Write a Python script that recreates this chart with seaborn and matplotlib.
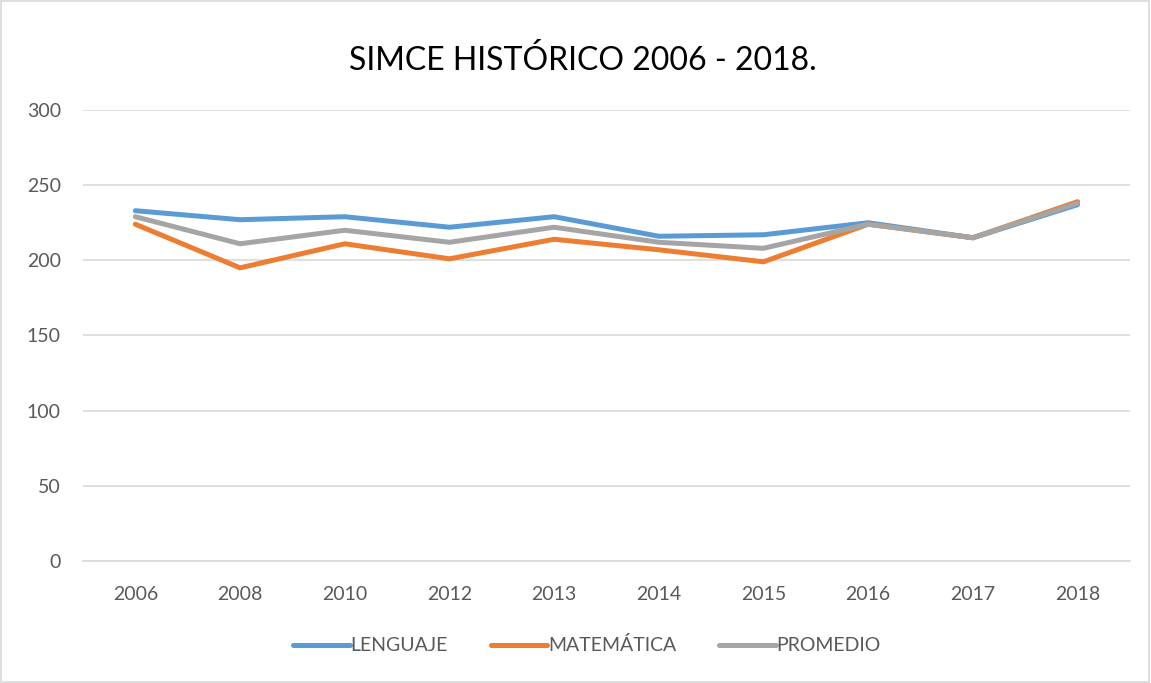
import matplotlib
matplotlib.use("Agg")
import matplotlib.pyplot as plt
import seaborn as sns
import pandas as pd
from matplotlib.patches import Rectangle
from matplotlib.lines import Line2D

years = ["2006", "2008", "2010", "2012", "2013", "2014", "2015", "2016", "2017", "2018"]
lenguaje = [233, 227, 229, 222, 229, 216, 217, 225, 215, 237]
matematica = [224, 195, 211, 201, 214, 207, 199, 224, 215, 239]
promedio = [229, 211, 220, 212, 222, 212, 208, 224, 215, 238]
series_names = ["LENGUAJE", "MATEMÁTICA", "PROMEDIO"]
colors = ["#5B9BD5", "#ED7D31", "#A5A5A5"]
yticks = [0, 50, 100, 150, 200, 250, 300]

rows = []
for name, vals in zip(series_names, [lenguaje, matematica, promedio]):
    for y, v in zip(years, vals):
        rows.append({"Año": y, "Puntaje": v, "Serie": name})
df = pd.DataFrame(rows)

sns.set_theme(style="white")
plt.rcParams["font.family"] = ["Lato", "DejaVu Sans"]

fig = plt.figure(figsize=(11.51, 6.83), dpi=100)
ax = fig.add_axes([0.0721, 0.1786, 0.9096, 0.6604])

sns.lineplot(data=df, x="Año", y="Puntaje", hue="Serie", hue_order=series_names,
             palette=colors, linewidth=3.6, sort=False, ax=ax, legend=False)

ax.set_ylim(0, 300)
ax.set_xlim(-0.5, len(years) - 0.5)
ax.set_yticks(yticks)
ax.set_xticks(range(len(years)))
ax.set_xticklabels(years)
ax.yaxis.grid(True, color="#D9D9D9", linewidth=1.2)
ax.set_axisbelow(True)
for s in ["top", "left", "right"]:
    ax.spines[s].set_visible(False)
ax.spines["bottom"].set_color("#D9D9D9")
ax.spines["bottom"].set_linewidth(1.2)
ax.tick_params(axis="both", length=0, labelsize=14, colors="#595959")
ax.tick_params(axis="y", pad=16)
ax.tick_params(axis="x", pad=18)
ax.set_xlabel("")
ax.set_ylabel("")

fig.text(0.506, 0.912, "SIMCE HISTÓRICO 2006 - 2018.", ha="center", va="center",
         fontsize=23, color="#000000")

handles = [Line2D([], [], color=c, linewidth=3.6, solid_capstyle="round") for c in colors]
fig.legend(handles, series_names, loc="center", bbox_to_anchor=(0.510, 0.055), ncol=3,
           frameon=False, fontsize=14, labelcolor="#595959", handlelength=2.9,
           handletextpad=0.05, columnspacing=2.2)

fig.patches.append(Rectangle((0.001, 0.001), 0.997, 0.997, transform=fig.transFigure,
                             fill=False, edgecolor="#D9D9D9", linewidth=1.2))

fig.savefig("out.png", dpi=100)
